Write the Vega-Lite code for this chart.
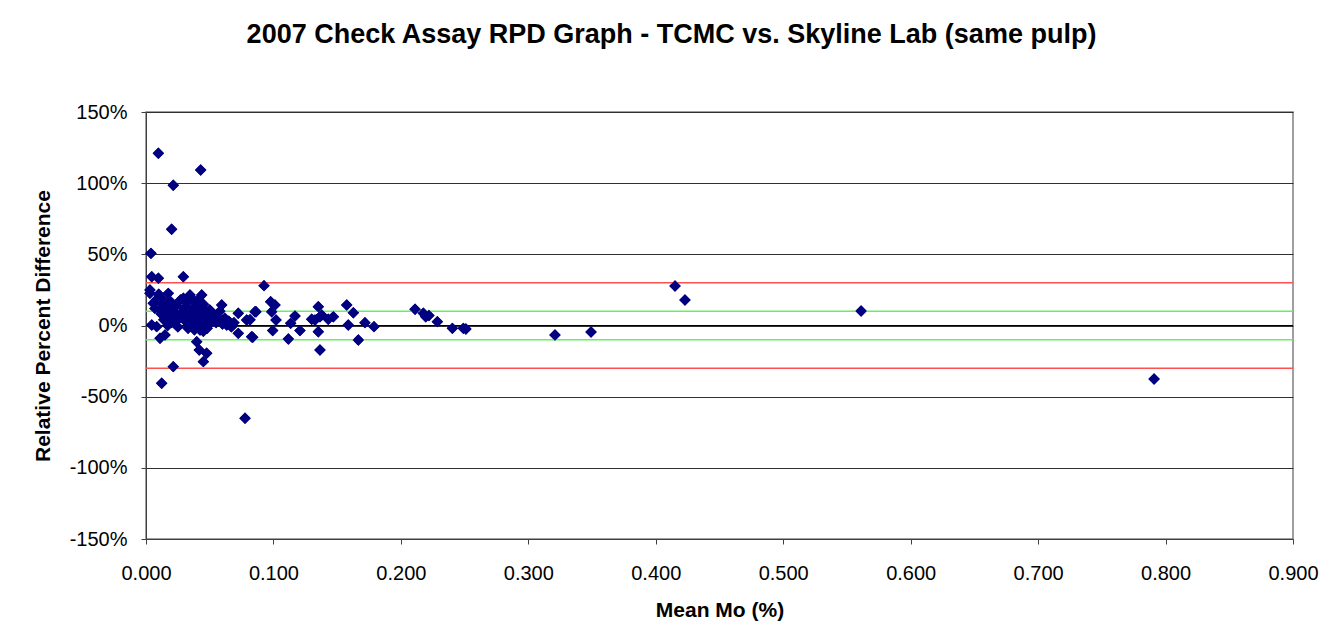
{
  "$schema": "https://vega.github.io/schema/vega-lite/v6.json",
  "width": 1147,
  "height": 427,
  "autosize": {"type": "none"},
  "padding": {"left": 146, "top": 112, "right": 39, "bottom": 101},
  "background": "white",
  "config": {
    "font": "Liberation Sans",
    "view": {"stroke": "#808080", "strokeWidth": 1.5}
  },
  "title": {
    "text": "2007 Check Assay RPD Graph - TCMC vs. Skyline Lab (same pulp)",
    "fontSize": 27,
    "fontWeight": "bold",
    "font": "Liberation Sans",
    "color": "black",
    "anchor": "middle",
    "dx": -48,
    "offset": 53
  },
  "datasets": {
    "one": [{"k": 1}],
    "pts": [
      {"mo": 0.0097, "rpd": 1.21}, {"mo": 0.0429, "rpd": 1.093}, {"mo": 0.0214, "rpd": 0.985},
      {"mo": 0.0201, "rpd": 0.676}, {"mo": 0.0039, "rpd": 0.507}, {"mo": 0.0045, "rpd": 0.343},
      {"mo": 0.0097, "rpd": 0.332}, {"mo": 0.0293, "rpd": 0.343}, {"mo": 0.0031, "rpd": 0.25},
      {"mo": 0.0031, "rpd": 0.226}, {"mo": 0.0057, "rpd": 0.156}, {"mo": 0.0175, "rpd": 0.226},
      {"mo": 0.0123, "rpd": 0.191}, {"mo": 0.011, "rpd": 0.109}, {"mo": 0.0149, "rpd": 0.062},
      {"mo": 0.0045, "rpd": 0.004}, {"mo": 0.0084, "rpd": -0.008}, {"mo": 0.011, "rpd": -0.09},
      {"mo": 0.0149, "rpd": -0.067}, {"mo": 0.0214, "rpd": 0.132}, {"mo": 0.024, "rpd": 0.062},
      {"mo": 0.0293, "rpd": 0.191}, {"mo": 0.0345, "rpd": 0.214}, {"mo": 0.0437, "rpd": 0.214},
      {"mo": 0.0319, "rpd": 0.109}, {"mo": 0.0371, "rpd": 0.062}, {"mo": 0.0345, "rpd": -0.008},
      {"mo": 0.0424, "rpd": -0.032}, {"mo": 0.0476, "rpd": 0.086}, {"mo": 0.0502, "rpd": 0.015},
      {"mo": 0.0594, "rpd": 0.144}, {"mo": 0.0554, "rpd": 0.039}, {"mo": 0.0633, "rpd": 0.004},
      {"mo": 0.0724, "rpd": 0.086}, {"mo": 0.079, "rpd": 0.039}, {"mo": 0.0855, "rpd": 0.097},
      {"mo": 0.0724, "rpd": -0.055}, {"mo": 0.0829, "rpd": -0.079}, {"mo": 0.0398, "rpd": -0.114},
      {"mo": 0.0418, "rpd": -0.172}, {"mo": 0.0476, "rpd": -0.195}, {"mo": 0.045, "rpd": -0.254},
      {"mo": 0.0214, "rpd": -0.289}, {"mo": 0.0123, "rpd": -0.406}, {"mo": 0.0777, "rpd": -0.652},
      {"mo": 0.013, "rpd": 0.15}, {"mo": 0.016, "rpd": 0.12}, {"mo": 0.018, "rpd": 0.08},
      {"mo": 0.019, "rpd": 0.17}, {"mo": 0.022, "rpd": 0.1}, {"mo": 0.024, "rpd": 0.14},
      {"mo": 0.026, "rpd": 0.05}, {"mo": 0.027, "rpd": 0.18}, {"mo": 0.028, "rpd": 0.09},
      {"mo": 0.03, "rpd": 0.12}, {"mo": 0.031, "rpd": 0.03}, {"mo": 0.032, "rpd": 0.16},
      {"mo": 0.033, "rpd": 0.07}, {"mo": 0.035, "rpd": 0.1}, {"mo": 0.036, "rpd": 0.19},
      {"mo": 0.037, "rpd": 0.02}, {"mo": 0.038, "rpd": 0.13}, {"mo": 0.039, "rpd": 0.05},
      {"mo": 0.04, "rpd": 0.17}, {"mo": 0.041, "rpd": 0.09}, {"mo": 0.042, "rpd": 0.01},
      {"mo": 0.043, "rpd": 0.12}, {"mo": 0.044, "rpd": 0.06}, {"mo": 0.045, "rpd": 0.15},
      {"mo": 0.046, "rpd": 0.03}, {"mo": 0.047, "rpd": 0.1}, {"mo": 0.048, "rpd": -0.02},
      {"mo": 0.049, "rpd": 0.07}, {"mo": 0.05, "rpd": 0.11}, {"mo": 0.052, "rpd": 0.04},
      {"mo": 0.053, "rpd": 0.08}, {"mo": 0.055, "rpd": 0.02}, {"mo": 0.057, "rpd": 0.06},
      {"mo": 0.058, "rpd": 0.1}, {"mo": 0.06, "rpd": 0.01}, {"mo": 0.062, "rpd": 0.05},
      {"mo": 0.065, "rpd": 0.03}, {"mo": 0.067, "rpd": -0.01}, {"mo": 0.069, "rpd": 0.02},
      {"mo": 0.025, "rpd": -0.01}, {"mo": 0.033, "rpd": -0.02}, {"mo": 0.038, "rpd": -0.03},
      {"mo": 0.045, "rpd": -0.04}, {"mo": 0.02, "rpd": 0.02}, {"mo": 0.017, "rpd": 0.0},
      {"mo": 0.014, "rpd": 0.04}, {"mo": 0.012, "rpd": 0.08}, {"mo": 0.007, "rpd": 0.12},
      {"mo": 0.008, "rpd": 0.18}, {"mo": 0.01, "rpd": 0.22},
      {"mo": 0.0926, "rpd": 0.28}, {"mo": 0.0816, "rpd": 0.04}, {"mo": 0.0863, "rpd": 0.097},
      {"mo": 0.0837, "rpd": -0.083}, {"mo": 0.0978, "rpd": 0.167}, {"mo": 0.1012, "rpd": 0.144},
      {"mo": 0.0986, "rpd": 0.097}, {"mo": 0.102, "rpd": 0.039}, {"mo": 0.0994, "rpd": -0.036},
      {"mo": 0.1117, "rpd": -0.095}, {"mo": 0.1135, "rpd": 0.015}, {"mo": 0.1169, "rpd": 0.067},
      {"mo": 0.1208, "rpd": -0.036}, {"mo": 0.13, "rpd": 0.044}, {"mo": 0.1352, "rpd": 0.132},
      {"mo": 0.1326, "rpd": 0.039}, {"mo": 0.1365, "rpd": 0.062}, {"mo": 0.1379, "rpd": 0.074},
      {"mo": 0.1352, "rpd": -0.044}, {"mo": 0.1365, "rpd": -0.172}, {"mo": 0.143, "rpd": 0.044},
      {"mo": 0.147, "rpd": 0.062}, {"mo": 0.1575, "rpd": 0.144}, {"mo": 0.1627, "rpd": 0.09},
      {"mo": 0.1587, "rpd": 0.004}, {"mo": 0.1666, "rpd": -0.102}, {"mo": 0.1718, "rpd": 0.02},
      {"mo": 0.1789, "rpd": -0.008}, {"mo": 0.2111, "rpd": 0.114}, {"mo": 0.2176, "rpd": 0.086},
      {"mo": 0.2195, "rpd": 0.062}, {"mo": 0.222, "rpd": 0.07}, {"mo": 0.2286, "rpd": 0.027},
      {"mo": 0.2404, "rpd": -0.02}, {"mo": 0.249, "rpd": -0.02}, {"mo": 0.251, "rpd": -0.025},
      {"mo": 0.3209, "rpd": -0.067}, {"mo": 0.3492, "rpd": -0.046}, {"mo": 0.4151, "rpd": 0.278},
      {"mo": 0.4229, "rpd": 0.179}, {"mo": 0.5611, "rpd": 0.102}, {"mo": 0.791, "rpd": -0.376}
    ]
  },
  "layer": [
    {
      "data": {"name": "pts"},
      "mark": {"type": "point", "shape": "diamond", "filled": true, "color": "#000080", "size": 130, "opacity": 1},
      "encoding": {
        "x": {
          "field": "mo", "type": "quantitative",
          "scale": {"domain": [0, 0.9], "nice": false},
          "axis": {
            "values": [0, 0.1, 0.2, 0.3, 0.4, 0.5, 0.6, 0.7, 0.8, 0.9],
            "format": ".3f",
            "labelFlush": false,
            "title": "Mean Mo (%)",
            "titleFontSize": 21, "titleFontWeight": "bold", "titleColor": "black", "titlePadding": 16,
            "labelFontSize": 20, "labelColor": "black", "labelPadding": 19,
            "grid": false, "domainColor": "#404040", "tickColor": "#404040", "tickSize": 5
          }
        },
        "y": {
          "field": "rpd", "type": "quantitative",
          "scale": {"domain": [-1.5, 1.5], "nice": false},
          "axis": {
            "values": [-1.5, -1, -0.5, 0, 0.5, 1, 1.5],
            "labelExpr": "replace(format(datum.value, '.0%'), '\u2212', '-')",
            "labelFlush": false,
            "title": "Relative Percent Difference",
            "titleFontSize": 21, "titleFontWeight": "bold", "titleColor": "black", "titlePadding": 16,
            "labelFontSize": 20, "labelColor": "black", "labelPadding": 14,
            "grid": true, "gridColor": "#303030", "gridOpacity": 1,
            "domainColor": "#404040", "tickColor": "#404040", "tickSize": 5
          }
        }
      }
    },
    {
      "data": {"name": "one"},
      "mark": {"type": "rule", "color": "#ff5050", "strokeWidth": 1.5},
      "encoding": {"y": {"datum": 0.3, "type": "quantitative"}}
    },
    {
      "data": {"name": "one"},
      "mark": {"type": "rule", "color": "#ff5050", "strokeWidth": 1.5},
      "encoding": {"y": {"datum": -0.3, "type": "quantitative"}}
    },
    {
      "data": {"name": "one"},
      "mark": {"type": "rule", "color": "#66ee66", "strokeWidth": 1.5},
      "encoding": {"y": {"datum": 0.1, "type": "quantitative"}}
    },
    {
      "data": {"name": "one"},
      "mark": {"type": "rule", "color": "#66ee66", "strokeWidth": 1.5},
      "encoding": {"y": {"datum": -0.1, "type": "quantitative"}}
    },
    {
      "data": {"name": "one"},
      "mark": {"type": "rule", "color": "black", "strokeWidth": 1},
      "encoding": {"y": {"datum": 0, "type": "quantitative"}}
    },
    {
      "data": {"name": "pts"},
      "mark": {"type": "point", "shape": "diamond", "filled": true, "color": "#000080", "size": 130, "opacity": 1},
      "encoding": {
        "x": {"field": "mo", "type": "quantitative"},
        "y": {"field": "rpd", "type": "quantitative"}
      }
    }
  ]
}
